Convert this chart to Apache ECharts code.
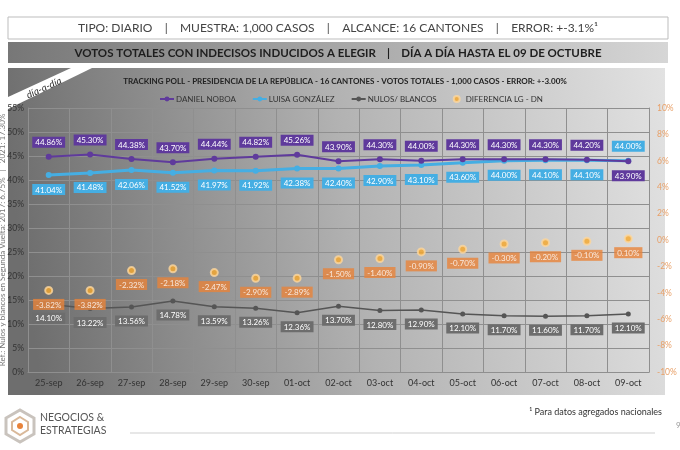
<!DOCTYPE html>
<html><head><meta charset="utf-8">
<script src="https://cdn.jsdelivr.net/npm/echarts@6/dist/echarts.min.js"></script>
<style>html,body{margin:0;padding:0;background:#fff}#c{width:680px;height:450px}</style>
</head><body><div id="c"></div>
<script>
const categories = ['25-sep','26-sep','27-sep','28-sep','29-sep','30-sep','01-oct','02-oct','03-oct','04-oct','05-oct','06-oct','07-oct','08-oct','09-oct'];
const noboa = [44.86,45.30,44.38,43.70,44.44,44.82,45.26,43.90,44.30,44.00,44.30,44.30,44.30,44.20,43.90];
const gonzalez = [41.04,41.48,42.06,41.52,41.97,41.92,42.38,42.40,42.90,43.10,43.60,44.00,44.10,44.10,44.00];
const nulos = [14.10,13.22,13.56,14.78,13.59,13.26,12.36,13.70,12.80,12.90,12.10,11.70,11.60,11.70,12.10];
const diferencia = [-3.82,-3.82,-2.32,-2.18,-2.47,-2.90,-2.89,-1.50,-1.40,-0.90,-0.70,-0.30,-0.20,-0.10,0.10];
const leftTicks = {min:0,max:55,interval:5};
const rightTicks = {min:-10,max:10,interval:2};

const FONT = 'Lato, "DejaVu Sans", sans-serif';
const PURPLE = '#5f3a9c', BLUE = '#45aee3', GRAY = '#555', ORANGE = '#e8833a', DOT = '#f6a72b';
const fmt = v => v.toFixed(2) + '%';

function lbl(bg, pos, dist){
  return {show:true, position:pos, distance:dist, formatter:p=>fmt(Array.isArray(p.value)?p.value[1]:p.value),
    color:'#fff', backgroundColor:bg, padding:[2,3,1,3], fontSize:8, fontFamily:FONT};
}
const last = categories.length-1;
const noboaData = noboa.map((v,i)=> i===last ? {value:v,label:{position:'bottom',distance:6}} : v);
const gonzData = gonzalez.map((v,i)=> i===last ? {value:v,label:{position:'top',distance:6}} : v);

const chart = echarts.init(document.getElementById('c'), null, {renderer:'canvas'});
chart.setOption({
  backgroundColor:'#fff',
  animation:false,
  textStyle:{fontFamily:FONT},
  graphic:[
    {type:'rect', z:-10, shape:{x:8,y:17,width:660,height:22}, style:{fill:'#fff',stroke:'#bdbdbd',lineWidth:1}},
    {type:'text', z:-9, x:338, y:28, style:{text:'TIPO: DIARIO    |    MUESTRA: 1,000 CASOS    |    ALCANCE: 16 CANTONES    |    ERROR: +-3.1%¹',
      font:'12px '+FONT, fill:'#444', align:'center', verticalAlign:'middle'}},
    {type:'rect', z:-10, shape:{x:8,y:42,width:660,height:21},
      style:{fill:new echarts.graphic.LinearGradient(0,0,1,0,[{offset:0,color:'#777'},{offset:1,color:'#d6d6d6'}])}},
    {type:'text', z:-9, x:338, y:53, style:{text:'VOTOS TOTALES CON INDECISOS INDUCIDOS A ELEGIR    |    DÍA A DÍA HASTA EL 09 DE OCTUBRE',
      font:'bold 11.5px '+FONT, fill:'#1e1e1e', align:'center', verticalAlign:'middle'}},
    {type:'rect', z:-10, shape:{x:8,y:68,width:657,height:327},
      style:{fill:new echarts.graphic.LinearGradient(0,0.3,1,0,[{offset:0,color:'#6e6e6e'},{offset:0.5,color:'#b2b2b2'},{offset:1,color:'#e2e2e2'}])}},
    {type:'polygon', z:-8, shape:{points:[[8,97],[71,68],[92,68],[8,109]]}, style:{fill:'#fff'}},
    {type:'text', z:-6, x:44, y:88, rotation:0.43, style:{text:'día-a-día', font:'italic 10px '+FONT, fill:'#333', align:'center', verticalAlign:'middle'}},
    {type:'text', z:-7, x:2, y:240, rotation:Math.PI/2, style:{text:'Ref.: Nulos y blancos en Segunda Vuelta: 2017: 6.75%   |   2021: 17.30%',
      font:'8px '+FONT, fill:'#777', align:'center', verticalAlign:'middle'}},
    {type:'line', shape:{x1:130,y1:433,x2:655,y2:433}, style:{stroke:'#cfcfcf',lineWidth:1}},
    {type:'text', x:662, y:412, style:{text:'¹ Para datos agregados nacionales', font:'9px '+FONT, fill:'#333', align:'right', verticalAlign:'middle'}},
    {type:'text', x:676, y:425, style:{text:'9', font:'8px '+FONT, fill:'#999', align:'left', verticalAlign:'middle'}},
    {type:'polygon', shape:{points:[[20,410],[34,418],[34,434],[20,442],[6,434],[6,418]]}, style:{fill:'none',stroke:'#c9c3bd',lineWidth:3}},
    {type:'polygon', shape:{points:[[20,417],[28,422],[28,430],[20,435],[12,430],[12,422]]}, style:{fill:'none',stroke:'#d9b99a',lineWidth:2}},
    {type:'circle', shape:{cx:20,cy:426,r:3}, style:{fill:'#e8833a'}},
    {type:'text', x:40, y:418, style:{text:'NEGOCIOS &', font:'10.5px '+FONT, fill:'#555', verticalAlign:'middle'}},
    {type:'text', x:40, y:431, style:{text:'ESTRATEGIAS', font:'10.5px '+FONT, fill:'#555', verticalAlign:'middle'}}
  ],
  title:{text:'TRACKING POLL - PRESIDENCIA DE LA REPÚBLICA - 16 CANTONES - VOTOS TOTALES - 1,000 CASOS - ERROR: +-3.00%',
    left:340, textAlign:'center', top:72, textStyle:{fontSize:8, fontWeight:'bold', color:'#222', fontFamily:FONT}},
  legend:{top:90, left:154, itemWidth:14, itemHeight:6, itemGap:16,
    textStyle:{fontSize:8, color:'#333', fontFamily:FONT, padding:[0,0,0,-3]},
    data:['DANIEL NOBOA','LUISA GONZÁLEZ','NULOS/ BLANCOS','DIFERENCIA LG - DN']},
  grid:{left:28, right:31, top:108, bottom:78, containLabel:false},
  xAxis:{type:'category', data:categories, boundaryGap:true,
    axisLine:{lineStyle:{color:'#8f8f8f'}}, axisTick:{show:false},
    splitLine:{show:true, lineStyle:{color:'#8f8f8f', width:1}},
    axisLabel:{fontSize:9, color:'#333', margin:7, fontFamily:FONT, interval:0}},
  yAxis:[
    {type:'value', min:leftTicks.min, max:leftTicks.max, interval:leftTicks.interval,
      axisLabel:{formatter:'{value}%', fontSize:8.5, color:'#333', margin:4, fontFamily:FONT},
      axisLine:{show:true, lineStyle:{color:'#8f8f8f'}}, axisTick:{show:false},
      splitLine:{show:true, lineStyle:{color:'#8f8f8f', width:1}}},
    {type:'value', min:rightTicks.min, max:rightTicks.max, interval:rightTicks.interval,
      axisLabel:{formatter:'{value}%', fontSize:8.5, color:'#e8a068', margin:8, fontFamily:FONT},
      axisLine:{show:true, lineStyle:{color:'#8f8f8f'}}, axisTick:{show:false}, splitLine:{show:false}}
  ],
  series:[
    {name:'DANIEL NOBOA', type:'line', data:noboaData, yAxisIndex:0, color:PURPLE, z:4,
      lineStyle:{width:2, color:PURPLE}, symbol:'circle', symbolSize:6, itemStyle:{color:PURPLE},
      label:lbl(PURPLE,'top',6)},
    {name:'LUISA GONZÁLEZ', type:'line', data:gonzData, yAxisIndex:0, color:BLUE, z:3,
      lineStyle:{width:3, color:BLUE}, symbol:'circle', symbolSize:6, itemStyle:{color:BLUE},
      label:lbl(BLUE,'bottom',6)},
    {name:'NULOS/ BLANCOS', type:'line', data:nulos, yAxisIndex:0, color:GRAY, z:3,
      lineStyle:{width:1.5, color:GRAY}, symbol:'circle', symbolSize:5, itemStyle:{color:GRAY},
      label:lbl('#6d6d6d','bottom',6)},
    {name:'DIFERENCIA LG - DN', type:'scatter', data:diferencia, yAxisIndex:1, color:DOT, z:5,
      symbol:'circle', symbolSize:7, itemStyle:{color:DOT, borderColor:'#fbd7a0', borderWidth:2},
      label:lbl(ORANGE,'bottom',4)}
  ]
});
</script></body></html>
